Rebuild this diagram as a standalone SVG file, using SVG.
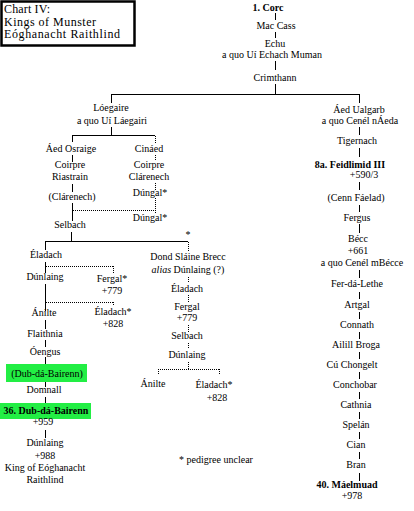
<svg xmlns="http://www.w3.org/2000/svg" width="414" height="511" viewBox="0 0 414 511">
<style>
text{font-family:"Liberation Serif","Times New Roman",serif;font-size:10px;fill:#000;text-anchor:middle}
.b{font-weight:bold}
.title{font-size:12px;text-anchor:start}
.s{stroke:#000;stroke-width:1;fill:none;shape-rendering:crispEdges}
.d{stroke:#000;stroke-width:1;fill:none;stroke-dasharray:1 1;shape-rendering:crispEdges}
.g{fill:#22ee44}
</style>
<rect x="0" y="0" width="414" height="511" fill="#fff"/>
<g id="title">
<rect x="1.5" y="1.5" width="133" height="44" fill="#fff" stroke="#000" stroke-width="2.5"/>
<text class="title" x="4" y="13" textLength="46">Chart IV:</text>
<text class="title" x="4" y="25.5" textLength="92">Kings of Munster</text>
<text class="title" x="4" y="38" textLength="116">Eóghanacht Raithlind</text>
</g>
<g id="connectors">
<path class="s" d="M275.5 13V20M275.5 32V38M275.5 61V70M275.5 84V94M111 94.5H360M111.5 94V103M359.5 94V103"/>
<path class="s" d="M111.5 127V135M72 135.5H155M72.5 135V142M72.5 155V162M72.5 184V192M72.5 203V221M71.5 232V241M45 241.5H188"/>
<path class="d" d="M155.5 136V143M155.5 155V161M155.5 183V191M155.5 198V214M73 210.5H155"/>
<path class="s" d="M45.5 241V250M45.5 262V273M45.5 284V311M45.5 320V329M45.5 340V347M45.5 357V365M45.5 382V387M45.5 397V403M45.5 430V438"/>
<path class="d" d="M46 266.5H113M113.5 266V273M46 302.5H113M113.5 302V306"/>
<path class="d" d="M188.5 242V252M188.5 277V283M188.5 295V302M188.5 325V332M188.5 343V349M188.5 362V369M158 369.5H219M158.5 369V375M219.5 369V375"/>
<path class="s" d="M359.5 127V135M359.5 148V157M359.5 182V190M359.5 205V212M359.5 224V233M359.5 270V278M359.5 292V299M359.5 312V319M359.5 332V339M359.5 352V359M359.5 372V379M359.5 392V399M359.5 412V419M359.5 432V439M359.5 452V459M359.5 473V481"/>
</g>
<g id="corc"><text class="b" x="268" y="11">1. Corc</text></g>
<g id="mac-cass"><text x="276" y="29">Mac Cass</text></g>
<g id="echu"><text x="275" y="47">Echu</text><text x="272" y="58">a quo Uí Echach Muman</text></g>
<g id="crimthann"><text x="275" y="81">Crimthann</text></g>
<g id="loegaire"><text x="111" y="111">Lóegaire</text><text x="112" y="124">a quo Uí Láegairi</text></g>
<g id="aed-osraige"><text x="71" y="152">Áed Osraige</text></g>
<g id="coirpre-riastrain"><text x="70" y="168">Coirpre</text><text x="70" y="180">Riastrain</text></g>
<g id="clarenech-l"><text x="72" y="200">(Clárenech)</text></g>
<g id="cinaed"><text x="149" y="152">Cináed</text></g>
<g id="coirpre-clarenech"><text x="149" y="168">Coirpre</text><text x="149" y="180">Clárenech</text></g>
<g id="dungal1"><text x="150" y="196">Dúngal*</text></g>
<g id="dungal2"><text x="150" y="221">Dúngal*</text></g>
<g id="selbach"><text x="70" y="228">Selbach</text></g>
<g id="star"><text x="188" y="238">*</text></g>
<g id="eladach1"><text x="46" y="258">Éladach</text></g>
<g id="dunlaing1"><text x="45" y="280">Dúnlaing</text></g>
<g id="fergal1"><text x="112" y="282">Fergal*</text><text x="112" y="294">+779</text></g>
<g id="anilte1"><text x="44" y="316">Ánilte</text></g>
<g id="eladach2"><text x="113" y="315">Éladach*</text><text x="113" y="327">+828</text></g>
<g id="flaithnia"><text x="45" y="337">Flaithnia</text></g>
<g id="oengus"><text x="45" y="355">Óengus</text></g>
<g id="dub-da-bairenn1"><rect class="g" x="6" y="364" width="81" height="18"/><text x="47" y="377">(Dub-dá-Bairenn)</text></g>
<g id="domnall"><text x="44" y="393">Domnall</text></g>
<g id="dub-da-bairenn2"><rect class="g" x="0" y="403" width="91" height="16"/><text class="b" x="46" y="414">36. Dub-dá-Bairenn</text><text x="43" y="425">+959</text></g>
<g id="dunlaing-king"><text x="45" y="446">Dúnlaing</text><text x="45" y="459">+988</text><text x="45" y="471">King of Eóghanacht</text><text x="45" y="483">Raithlind</text></g>
<g id="dond"><text x="188" y="260">Dond Sláine Brecc</text><text x="188" y="273"><tspan font-style="italic">alias</tspan> Dúnlaing (?)</text></g>
<g id="eladach3"><text x="187" y="292">Éladach</text></g>
<g id="fergal2"><text x="187" y="310">Fergal</text><text x="187" y="321">+779</text></g>
<g id="selbach2"><text x="187" y="339">Selbach</text></g>
<g id="dunlaing2"><text x="187" y="358">Dúnlaing</text></g>
<g id="anilte2"><text x="153" y="387">Ánilte</text></g>
<g id="eladach4"><text x="214" y="388">Éladach*</text><text x="217" y="401">+828</text></g>
<g id="note"><text x="216" y="463">* pedigree unclear</text></g>
<g id="aed-ualgarb"><text x="359" y="113">Áed Ualgarb</text><text x="360" y="124">a quo Cenél nÁeda</text></g>
<g id="tigernach"><text x="357" y="144">Tigernach</text></g>
<g id="feidlimid"><text class="b" x="350" y="168">8a. Feidlimid III</text><text x="364" y="178">+590/3</text></g>
<g id="cenn-faelad"><text x="356" y="201">(Cenn Fáelad)</text></g>
<g id="fergus"><text x="357" y="221">Fergus</text></g>
<g id="becc"><text x="358" y="242">Bécc</text><text x="358" y="254">+661</text><text x="362" y="266">a quo Cenél mBécce</text></g>
<g id="fer-da-lethe"><text x="357" y="287">Fer-dá-Lethe</text></g>
<g id="artgal"><text x="357" y="308">Artgal</text></g>
<g id="connath"><text x="357" y="328">Connath</text></g>
<g id="ailill"><text x="356" y="348">Ailill Broga</text></g>
<g id="cu-chongelt"><text x="352" y="368">Cú Chongelt</text></g>
<g id="conchobar"><text x="355" y="388">Conchobar</text></g>
<g id="cathnia"><text x="356" y="408">Cathnia</text></g>
<g id="spelan"><text x="356" y="428">Spelán</text></g>
<g id="cian"><text x="356" y="448">Cian</text></g>
<g id="bran"><text x="356" y="468">Bran</text></g>
<g id="maelmuad"><text class="b" x="347" y="488">40. Máelmuad</text><text x="352" y="499">+978</text></g>
</svg>
